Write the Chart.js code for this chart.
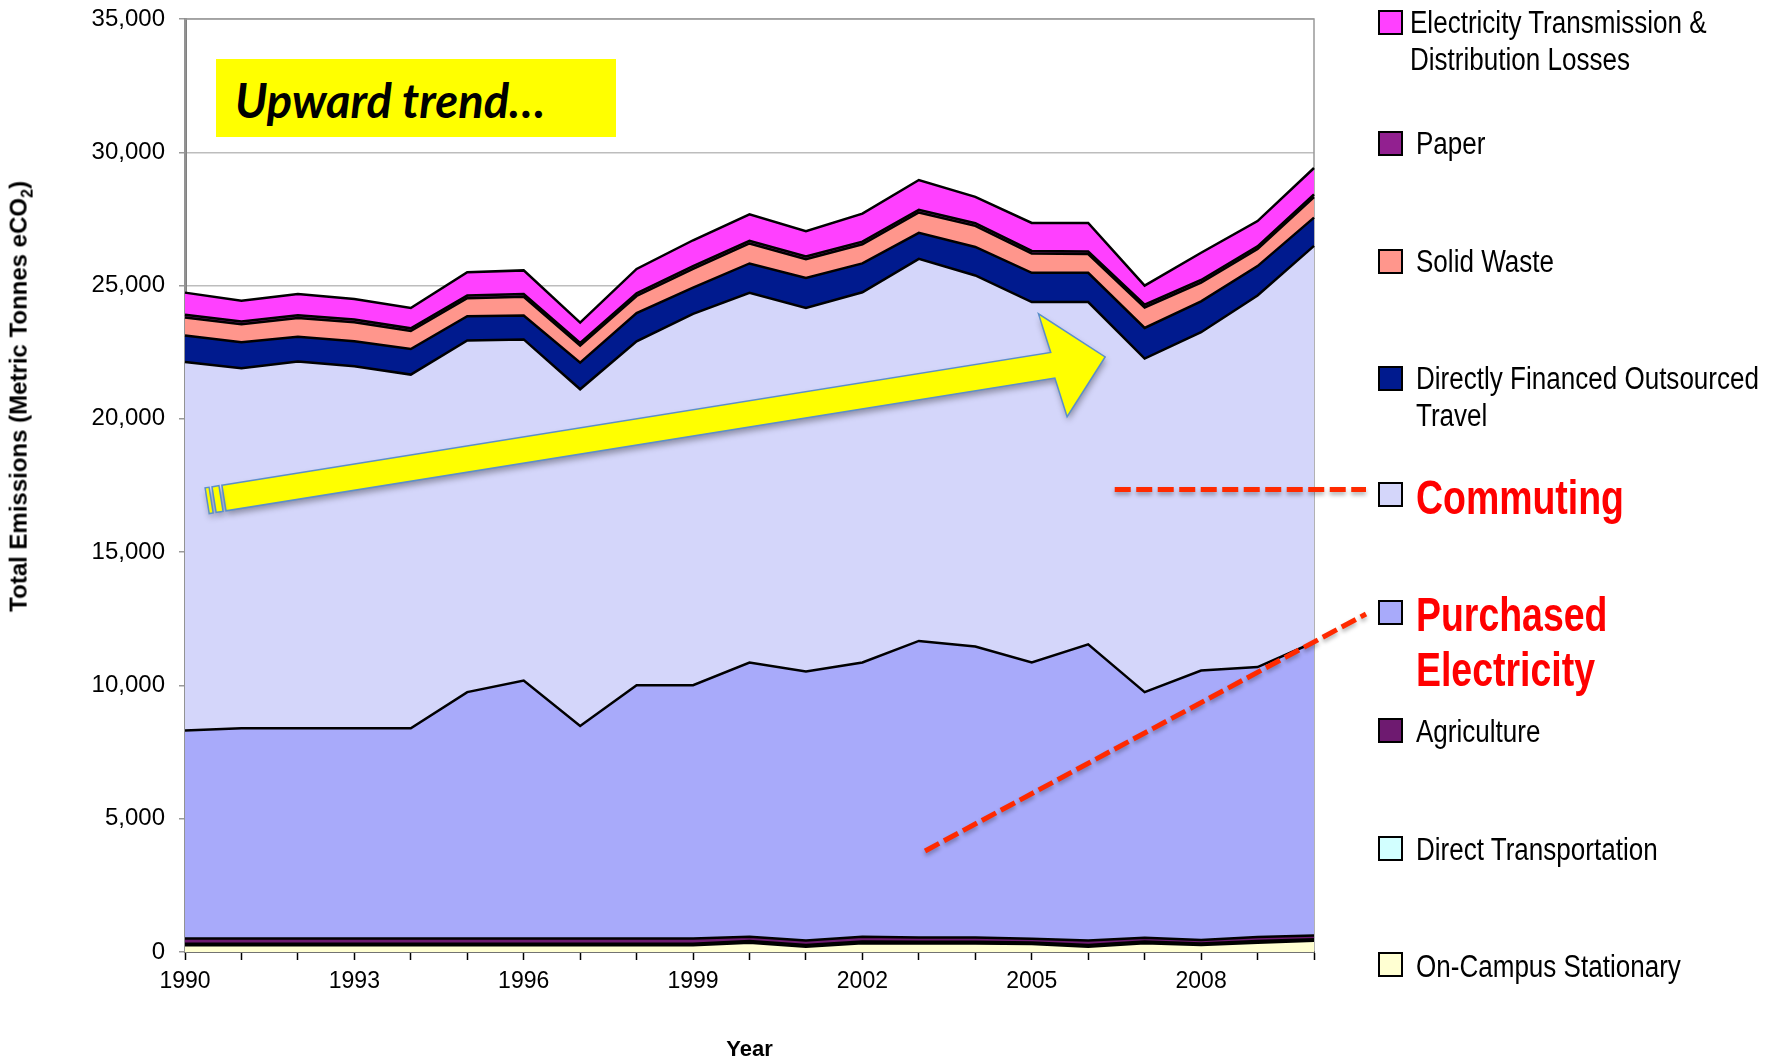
<!DOCTYPE html>
<html lang="en">
<head>
<meta charset="UTF-8">
<title>Total Emissions 1990-2010</title>
<script src="https://cdn.jsdelivr.net/npm/chart.js"></script>
<style>
  html, body { margin: 0; padding: 0; background: #fff; }
  #wrap { position: relative; width: 1779px; height: 1063px; overflow: hidden; }
  #emissoes { position: absolute; left: 0; top: 0; }
  .caixa { position: absolute; width: 21px; height: 21px; border: 2px solid #000; }
  .rotulo { position: absolute; font-family: "Liberation Sans", Arial, sans-serif;
            font-size: 31px; line-height: 37px; color: #000; white-space: nowrap;
            transform: scaleX(0.84); transform-origin: left center; }
  .rotulo.destaque { font-weight: bold; font-size: 48px; line-height: 55px; color: #ff0000; transform: scaleX(0.78); }
  #tendencia { position: absolute; left: 216px; top: 59px; width: 400px; height: 78px; background: #ffff00;
               font-family: Lato, "Open Sans", sans-serif; font-weight: bold; font-style: italic; font-size: 47px;
               line-height: 78px; padding-left: 19px; box-sizing: border-box; padding-top: 2px; }
  #tituloY { position: absolute; left: -227px; top: 377px; width: 500px; text-align: center;
             transform: rotate(-90deg); font-family: "Liberation Sans", Arial, sans-serif; font-weight: bold;
             font-size: 24px; line-height: 30px; }
  #tituloY sub { font-size: 16px; }
</style>
</head>
<body>
<div id="wrap">
  <canvas id="emissoes" width="1779" height="1063"></canvas>
  <div id="tendencia">Upward trend…</div>
  <div id="tituloY">Total Emissions (Metric Tonnes eCO<sub>2</sub>)</div>
</div>

<script>
  // anos e series (empilhadas de baixo para cima)
  const anos = ['1990','1991','1992','1993','1994','1995','1996','1997','1998','1999','2000',
                '2001','2002','2003','2004','2005','2006','2007','2008','2009','2010'];

  const onCampus        = [250,250,250,250,250,250,250,250,250,250,350,200,330,320,320,300,200,330,260,350,420];
  const directTransport = [60,60,60,60,60,60,60,60,60,60,60,60,60,60,60,60,60,60,60,60,60];
  const agriculture     = [200,200,200,200,200,200,200,200,200,200,160,170,180,160,160,140,170,140,130,150,140];
  const purchasedElec   = [7800,7880,7880,7880,7880,9240,9670,7970,9500,9500,10290,10090,10290,11130,10920,10360,11110,9220,10110,10130,11000];
  const commuting       = [13820,13510,13760,13580,13270,13190,12800,12630,12900,13930,13870,13640,13890,14330,13920,13520,12840,12510,12690,13940,14870];
  const outsourcedTravel= [1000,970,930,940,960,910,900,1000,1060,980,1100,1130,1080,980,1070,1100,1100,1150,1160,1100,1060];
  const solidWaste      = [675,680,705,715,675,675,700,640,640,710,750,700,720,760,790,720,700,770,700,640,770];
  const paper           = [100,100,100,100,100,100,100,100,100,100,100,100,100,100,100,100,100,100,100,100,100];
  const elecTD          = [830,780,795,775,765,875,890,760,915,970,990,950,1050,1120,990,1050,1070,720,1020,950,990];

  const yTicks = [0, 5000, 10000, 15000, 20000, 25000, 30000, 35000];

  // nome, valores, cor
  const series = [
    ['On-Campus Stationary', onCampus, '#ffffd2'],
    ['Direct Transportation', directTransport, '#d2ffff'],
    ['Agriculture', agriculture, '#6e1a70'],
    ['Purchased Electricity', purchasedElec, '#a8aafa'],
    ['Commuting', commuting, '#d4d6fa'],
    ['Directly Financed Outsourced Travel', outsourcedTravel, '#001a8e'],
    ['Solid Waste', solidWaste, '#ff968c'],
    ['Paper', paper, '#922090'],
    ['Electricity Transmission & Distribution Losses', elecTD, '#ff40ff']
  ];

  // legenda: [indice da serie, linhas, centro da caixa, centro do texto, x do texto, destaque]
  const legenda = [
    [8, ['Electricity Transmission &', 'Distribution Losses'], 22, 22, 1410, false],
    [7, ['Paper'], 143, 143, 1416, false],
    [6, ['Solid Waste'], 261, 261, 1416, false],
    [5, ['Directly Financed Outsourced', 'Travel'], 378, 378, 1416, false],
    [4, ['Commuting'], 494, 497, 1416, true],
    [3, ['Purchased', 'Electricity'], 612, 614, 1416, true],
    [2, ['Agriculture'], 730, 731, 1416, false],
    [1, ['Direct Transportation'], 848, 849, 1416, false],
    [0, ['On-Campus Stationary'], 964, 966, 1416, false]
  ];

  const wrap = document.getElementById('wrap');
  legenda.forEach(function (item) {
    const caixa = document.createElement('div');
    caixa.className = 'caixa';
    caixa.style.left = '1378px';
    caixa.style.top = (item[2] - 12.5) + 'px';
    caixa.style.background = series[item[0]][2];
    wrap.appendChild(caixa);

    const txt = document.createElement('div');
    txt.className = 'rotulo' + (item[5] ? ' destaque' : '');
    const lh = item[5] ? 55 : 37;
    txt.style.left = item[4] + 'px';
    txt.style.top = (item[3] - lh / 2) + 'px';
    txt.innerHTML = item[1].map(s => s.replace('&', '&amp;')).join('<br>');
    wrap.appendChild(txt);
  });

  // setas e linhas tracejadas (posicoes em unidades do grafico)
  const setaTendencia = { de: [0.69, 17030], ate: [16.30, 22325] };
  const ponteiroCommuting = { de: [16.47, 17350], ateX: 1366 };
  const ponteiroPurchased = { de: [13.11, 3790], ateX: 1366, ateY: 614 };

  function desenhaSeta(ctx, x0, y0, x1, y1) {
    const ang = Math.atan2(y1 - y0, x1 - x0);
    const len = Math.hypot(x1 - x0, y1 - y0);
    const meia = 13, cabeca = 53, compCabeca = 53;
    ctx.save();
    ctx.translate(x0, y0);
    ctx.rotate(ang);
    ctx.shadowColor = 'rgba(0,0,0,0.35)';
    ctx.shadowBlur = 6;
    ctx.shadowOffsetX = 1;
    ctx.shadowOffsetY = 4;
    ctx.fillStyle = '#ffff00';
    ctx.strokeStyle = '#5b8fc9';
    ctx.lineWidth = 1.5;
    ctx.beginPath();
    ctx.moveTo(0, -meia);
    ctx.lineTo(len - compCabeca, -meia);
    ctx.lineTo(len - compCabeca - 6, -cabeca);
    ctx.lineTo(len, 0);
    ctx.lineTo(len - compCabeca + 6, cabeca);
    ctx.lineTo(len - compCabeca, meia);
    ctx.lineTo(0, meia);
    ctx.closePath();
    ctx.fill();
    ctx.fillRect(-17, -meia, 4, meia * 2);
    ctx.fillRect(-10, -meia, 7, meia * 2);
    ctx.shadowColor = 'transparent';
    ctx.stroke();
    ctx.strokeRect(-17, -meia, 4, meia * 2);
    ctx.strokeRect(-10, -meia, 7, meia * 2);
    ctx.restore();
  }

  function tracejado(ctx, x0, y0, x1, y1) {
    ctx.save();
    ctx.shadowColor = 'rgba(0,0,0,0.3)';
    ctx.shadowBlur = 4;
    ctx.shadowOffsetY = 3;
    ctx.strokeStyle = '#ff2a00';
    ctx.lineWidth = 5;
    ctx.setLineDash([16, 5.5]);
    ctx.beginPath();
    ctx.moveTo(x0, y0);
    ctx.lineTo(x1, y1);
    ctx.stroke();
    ctx.restore();
  }

  const anotacoes = {
    id: 'anotacoes',
    beforeDatasetsDraw(chart) {
      const a = chart.chartArea, ctx = chart.ctx;
      ctx.save();
      ctx.strokeStyle = '#999';
      ctx.lineWidth = 1.5;
      ctx.strokeRect(a.left, a.top, a.right - a.left, a.bottom - a.top);
      ctx.restore();
    },
    afterDatasetsDraw(chart) {
      const x = chart.scales.x, y = chart.scales.y, ctx = chart.ctx;
      desenhaSeta(ctx,
        x.getPixelForValue(setaTendencia.de[0]), y.getPixelForValue(setaTendencia.de[1]),
        x.getPixelForValue(setaTendencia.ate[0]), y.getPixelForValue(setaTendencia.ate[1]));
      const cy = y.getPixelForValue(ponteiroCommuting.de[1]);
      tracejado(ctx, x.getPixelForValue(ponteiroCommuting.de[0]), cy, ponteiroCommuting.ateX, cy);
      tracejado(ctx, x.getPixelForValue(ponteiroPurchased.de[0]), y.getPixelForValue(ponteiroPurchased.de[1]),
                ponteiroPurchased.ateX, ponteiroPurchased.ateY);
    }
  };

  const ctx = document.getElementById('emissoes').getContext('2d');
  new Chart(ctx, {
    type: 'line',
    data: {
      labels: anos,
      datasets: series.map((s, i) => ({
        label: s[0],
        data: s[1],
        backgroundColor: s[2],
        borderColor: '#000',
        borderWidth: 2.5,
        pointRadius: 0,
        tension: 0,
        fill: i === 0 ? 'origin' : '-1'
      }))
    },
    options: {
      responsive: false,
      animation: false,
      devicePixelRatio: 1,
      layout: { padding: { left: 0, top: 19, right: 465, bottom: 0 } },
      plugins: {
        legend: { display: false },
        tooltip: { enabled: false }
      },
      scales: {
        x: {
          grid: { drawOnChartArea: false, drawTicks: true, tickLength: 8, tickColor: '#000', tickWidth: 1.5 },
          border: { color: '#000', width: 2 },
          ticks: {
            autoSkip: false, maxRotation: 0, padding: 8, color: '#000',
            font: { family: '"Liberation Sans", Arial, sans-serif', size: 23 },
            callback: function (val, idx) { return idx % 3 === 0 ? this.getLabelForValue(val) : ''; }
          },
          title: {
            display: true, text: 'Year', color: '#000', padding: { top: 0, bottom: 0 },
            font: { family: '"Liberation Sans", Arial, sans-serif', size: 22, weight: 'bold' }
          },
          afterFit: scale => { scale.height = 111; scale.paddingLeft = 0; scale.paddingRight = 0; }
        },
        y: {
          stacked: true,
          min: yTicks[0],
          max: yTicks[yTicks.length - 1],
          afterBuildTicks: scale => { scale.ticks = yTicks.map(v => ({ value: v })); },
          grid: { color: '#bdbdbd', lineWidth: 1.5, tickLength: 6, tickColor: '#999' },
          border: { color: '#808080', width: 3 },
          ticks: {
            padding: 14, color: '#000',
            font: { family: '"Liberation Sans", Arial, sans-serif', size: 24 },
            callback: v => v.toLocaleString('en-US')
          },
          afterFit: scale => { scale.width = 185; scale.paddingTop = 0; scale.paddingBottom = 0; }
        }
      }
    },
    plugins: [anotacoes]
  });
</script>
</body>
</html>
